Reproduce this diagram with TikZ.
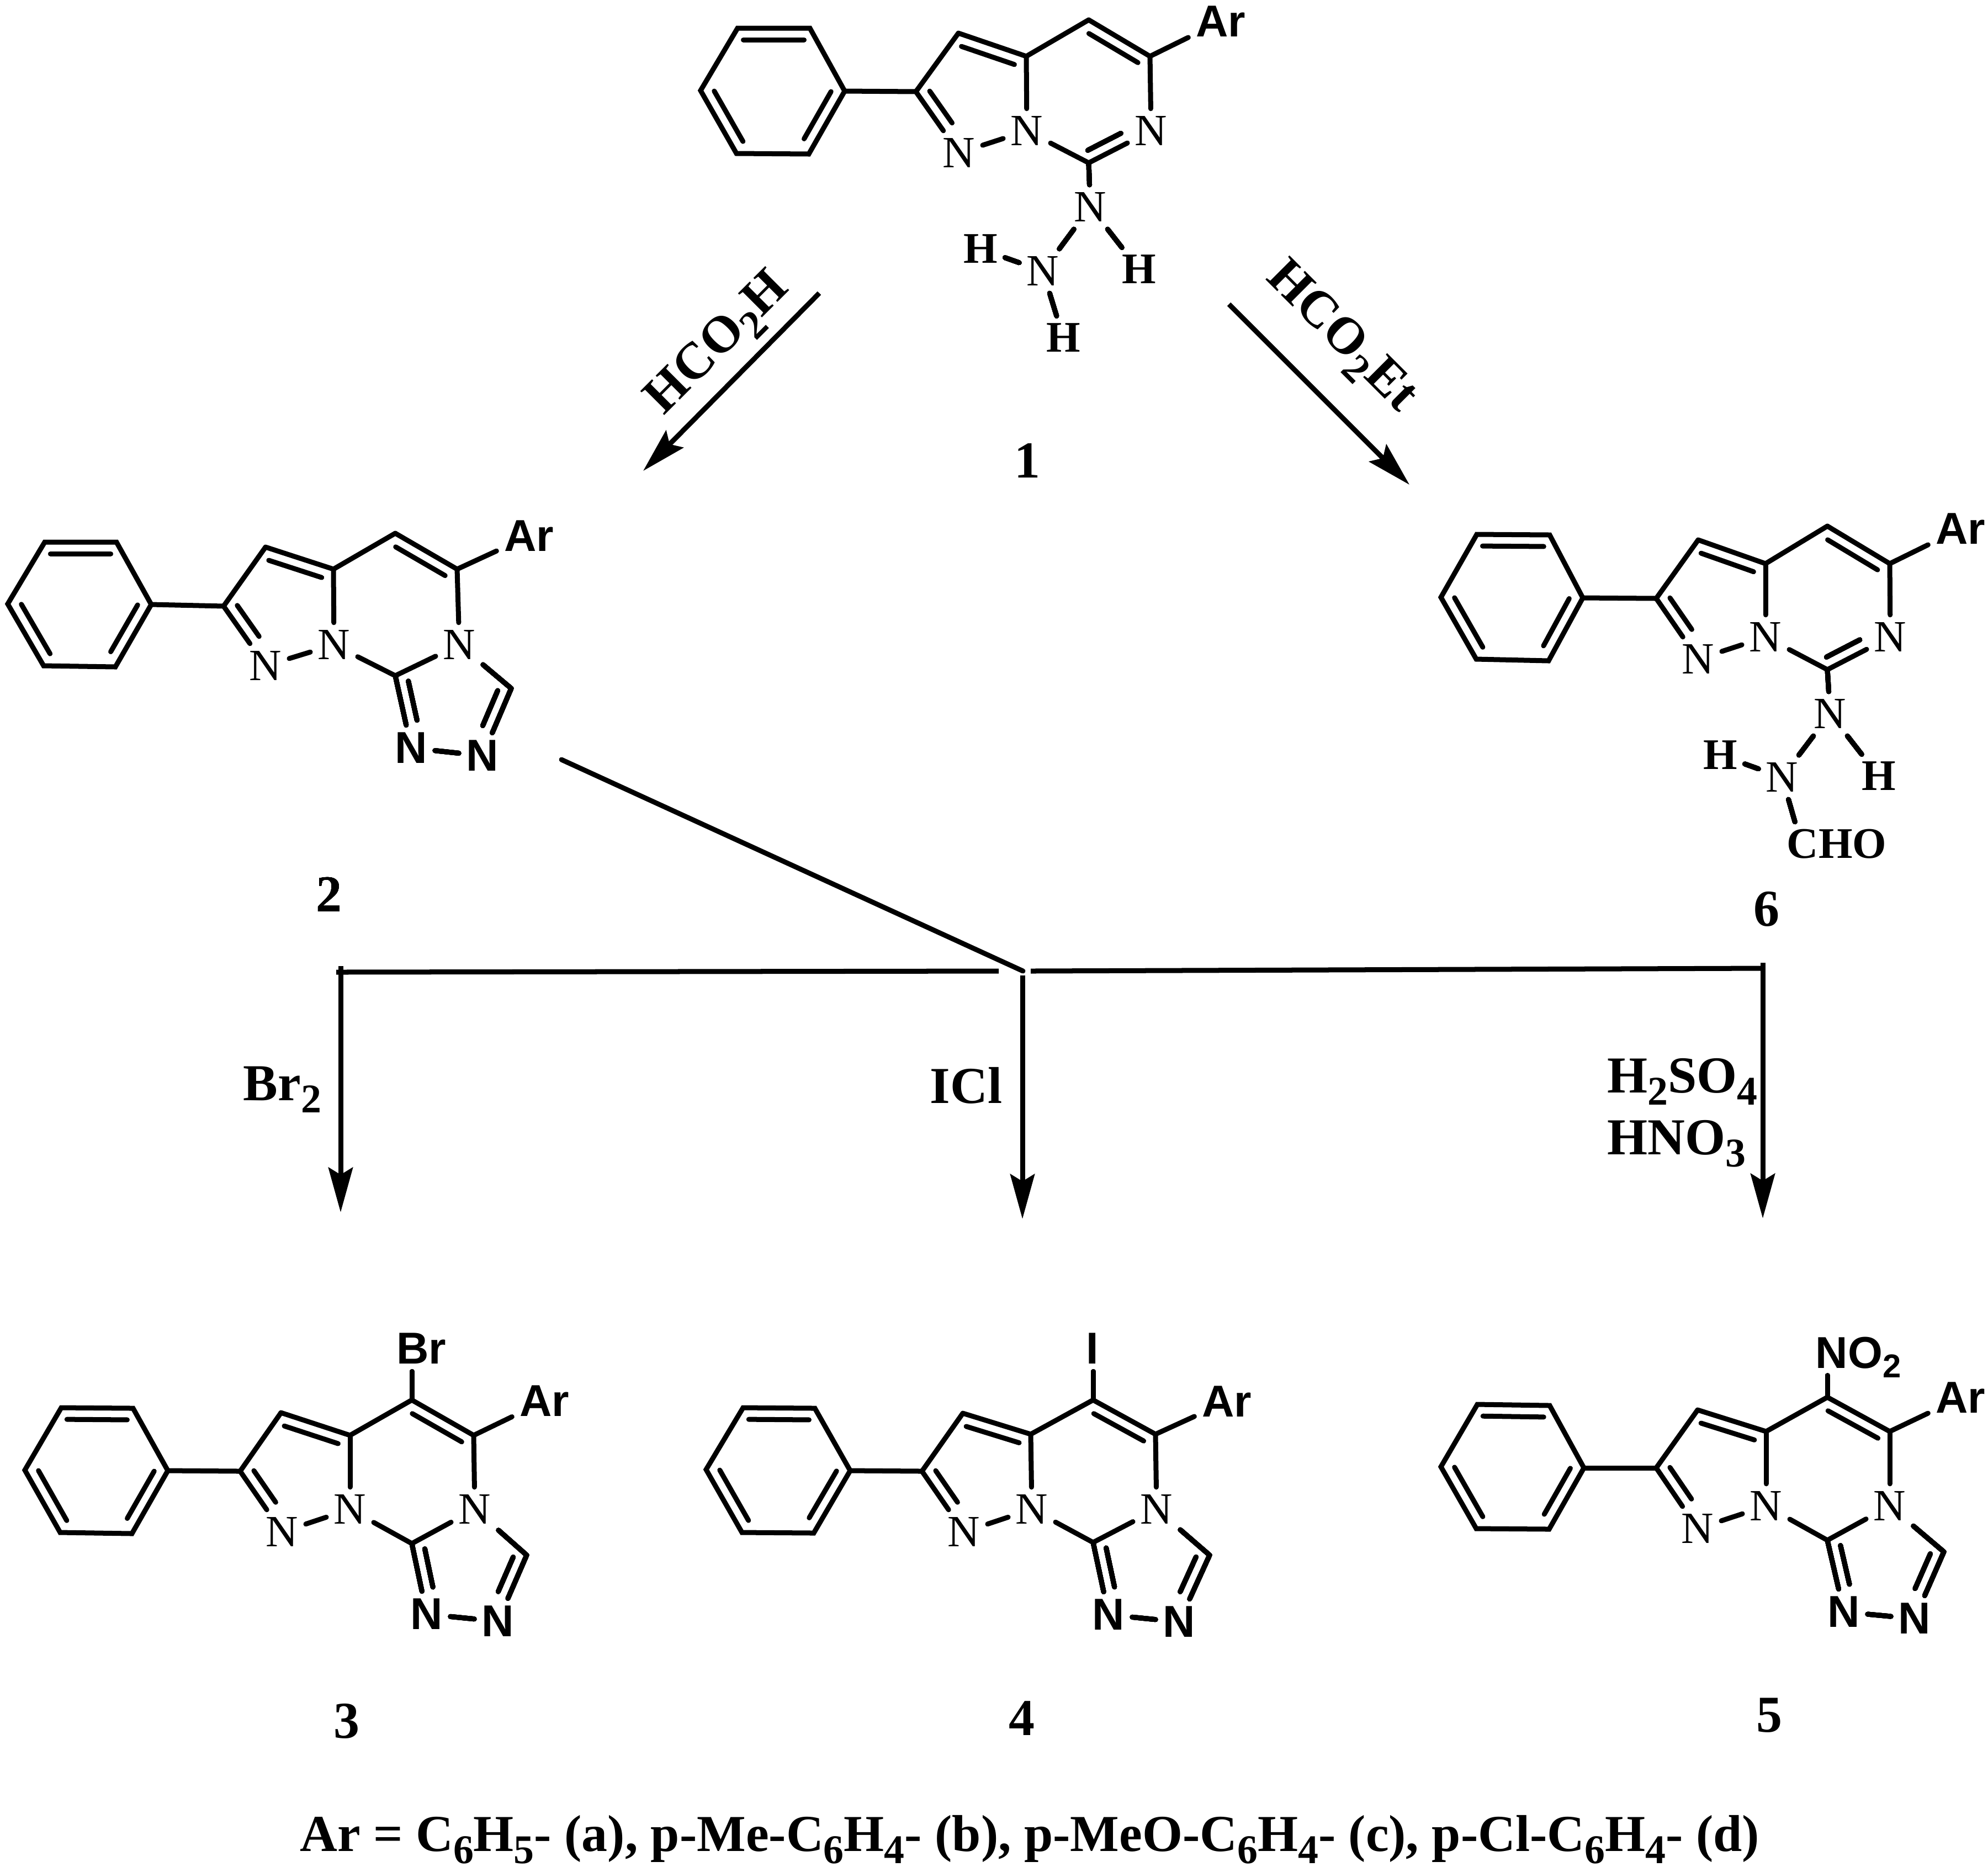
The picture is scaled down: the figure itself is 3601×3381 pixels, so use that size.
\documentclass[tikz,border=0pt]{standalone}
\usepackage{fontspec}
\setmainfont{Liberation Serif}
\newfontfamily\sansf{Liberation Sans}
\usetikzlibrary{arrows.meta, calc}
\newcommand{\sbs}[1]{\raisebox{-.24em}{\fontsize{21}{21}\selectfont #1}}
\newcommand{\nsbs}[1]{\raisebox{-.22em}{\fontsize{17}{17}\selectfont #1}}
\tikzset{
    bond/.style={line width=0.09cm, line cap=round, line join=miter},
    rline/.style={line width=0.09cm},
    rarrow/.style={rline, -{Stealth[length=0.81cm, width=0.44cm, inset=0.13cm]}},
    atom/.style={font=\fontsize{23}{23}\selectfont, inner sep=0.13cm},
    hatom/.style={atom, font=\fontsize{22.5}{23}\selectfont\bfseries},
    aratom/.style={atom, font=\fontsize{23}{23}\selectfont\sansf\bfseries},
    reagent/.style={font=\fontsize{26.7}{27}\selectfont\bfseries, inner sep=0pt},
}
\newcommand{\dbl}[4]{\draw[bond] ($(#1)!#3!(#2)!0.21cm!-90:(#2)$) -- ($(#1)!#4!(#2)!0.21cm!-90:(#2)$);}
\newcommand{\corebonds}[1]{
    \draw[bond] (#1p1) -- (#1p2) -- (#1p3) -- (#1p4) -- (#1p5) -- (#1p6) -- cycle;
    \foreach \a/\b in {p3/c2,c2/c3,c3/c3a,c3a/ch,ch/car,car/n4,c3a/nb,nb/nl,c2/nl,nb/cb,cb/n4,car/ar}
        \draw[bond] (#1\a) -- (#1\b);
    \foreach \a/\b/\s/\e in {p1/p2/.08/.92,p3/p4/.1/.85,p5/p6/.1/.9,c3/c3a/.1/.88,nl/c2/.38/.9,ch/car/.1/.9}
        \dbl{#1\a}{#1\b}{\s}{\e}
}
\newcommand{\triazole}[1]{
    \foreach \a/\b in {cb/n3,n4/ct,ct/nr,n3/nr}
        \draw[bond] (#1\a) -- (#1\b);
    \dbl{#1n3}{#1cb}{.35}{.89}
    \dbl{#1ct}{#1nr}{.1}{.62}
}
\begin{document}
\begin{tikzpicture}[x=0.01cm, y=-0.01cm]
    \useasboundingbox (0,0) rectangle (3601,3381);
    \foreach \n/\x/\y in {p1/1336/51,p2/1467/51,p3/1530/165,p4/1465/279,p5/1334/278,p6/1269/164,c2/1659/166,c3/1736/60,c3a/1859/102,ch/1972/36,car/2083/102,cb/1972/295}
        \coordinate (m1\n) at (\x,\y);
    \foreach \n/\x/\y in {nl/1737/277,nb/1860/237,n4/2085/237,n5/1975/375,n6/1889/491}
        \node[atom] (m1\n) at (\x,\y) {N};
    \foreach \n/\x/\y in {h1/2063/488,h2/1776/451,h3/1926/612}
        \node[hatom] (m1\n) at (\x,\y) {H};
    \node[aratom] (m1ar) at (2211,39) {Ar};
    \corebonds{m1}
    \dbl{m1n4}{m1cb}{.40}{.93}
    \foreach \a/\b in {cb/n5,n5/n6,n5/h1,n6/h2,n6/h3}
        \draw[bond] (m1\a) -- (m1\b);
    \node[reagent] (lab1) at (1861,834) {1};

    \foreach \n/\x/\y in {p1/2675/968,p2/2807/969,p3/2867/1083,p4/2805/1197,p5/2674/1194,p6/2610/1082,c2/3000/1084,c3/3076/978,c3a/3198/1021,ch/3310/953,car/3423/1021,cb/3310/1213}
        \coordinate (m6\n) at (\x,\y);
    \foreach \n/\x/\y in {nl/3076/1194,nb/3198/1154,n4/3424/1154,n5/3315/1293,n6/3228/1408}
        \node[atom] (m6\n) at (\x,\y) {N};
    \foreach \n/\x/\y in {h1/3403/1406,h2/3116/1368}
        \node[hatom] (m6\n) at (\x,\y) {H};
    \node[hatom] (m6cho) at (3327,1529) {CHO};
    \node[aratom] (m6ar) at (3551,958) {Ar};
    \corebonds{m6}
    \dbl{m6n4}{m6cb}{.40}{.93}
    \foreach \a/\b in {cb/n5,n5/n6,n5/h1,n6/h2,n6/cho.152}
        \draw[bond] (m6\a) -- (m6\b);
    \node[reagent] (lab6) at (3200,1647) {6};

    \foreach \n/\x/\y in {p1/81/982,p2/211/982,p3/274/1095,p4/209/1208,p5/79/1206,p6/14/1094,c2/405/1098,c3/481/991,c3a/604/1031,ch/716/966,car/828/1031,cb/716/1224,ct/926/1247}
        \coordinate (m2\n) at (\x,\y);
    \foreach \n/\x/\y in {nl/481/1206,nb/605/1168,n4/832/1168}
        \node[atom] (m2\n) at (\x,\y) {N};
    \foreach \n/\x/\y in {n3/745/1355,nr/874/1369}
        \node[aratom] (m2\n) at (\x,\y) {N};
    \node[aratom] (m2ar) at (958,971) {Ar};
    \corebonds{m2}
    \triazole{m2}
    \node[reagent] (lab2) at (596,1620) {2};

    \foreach \n/\x/\y in {p1/111/2550,p2/241/2551,p3/304/2664,p4/239/2778,p5/109/2776,p6/45/2663,c2/435/2665,c3/509/2559,c3a/634/2600,ch/746/2536,car/858/2600,cb/746/2796,ct/954/2817}
        \coordinate (m3\n) at (\x,\y);
    \foreach \n/\x/\y in {nl/511/2775,nb/634/2734,n4/860/2734}
        \node[atom] (m3\n) at (\x,\y) {N};
    \foreach \n/\x/\y in {n3/773/2924,nr/902/2937}
        \node[aratom] (m3\n) at (\x,\y) {N};
    \node[aratom] (m3ar) at (986,2538) {Ar};
    \node[aratom] (m3x) at (763,2443) {Br};
    \corebonds{m3}
    \triazole{m3}
    \draw[bond] (m3ch) -- (m3ch |- m3x.south);
    \node[reagent] (lab3) at (628,3118) {3};

    \foreach \n/\x/\y in {p1/1346/2550,p2/1476/2551,p3/1540/2664,p4/1474/2777,p5/1344/2776,p6/1279/2662,c2/1670/2665,c3/1744/2560,c3a/1867/2598,ch/1980/2536,car/2093/2598,cb/1980/2794,ct/2191/2817}
        \coordinate (m4\n) at (\x,\y);
    \foreach \n/\x/\y in {nl/1746/2775,nb/1869/2734,n4/2095/2734}
        \node[atom] (m4\n) at (\x,\y) {N};
    \foreach \n/\x/\y in {n3/2008/2925,nr/2136/2938}
        \node[aratom] (m4\n) at (\x,\y) {N};
    \node[aratom] (m4ar) at (2222,2539) {Ar};
    \node[aratom] (m4x) at (1979,2443) {I};
    \corebonds{m4}
    \triazole{m4}
    \draw[bond] (m4ch) -- (m4ch |- m4x.south);
    \node[reagent] (lab4) at (1851,3113) {4};

    \foreach \n/\x/\y in {p1/2676/2544,p2/2807/2546,p3/2869/2659,p4/2806/2770,p5/2674/2769,p6/2610/2657,c2/3000/2659,c3/3075/2554,c3a/3199/2593,ch/3310/2531,car/3423/2593,cb/3310/2790,ct/3521/2811}
        \coordinate (m5\n) at (\x,\y);
    \foreach \n/\x/\y in {nl/3075/2769,nb/3199/2728,n4/3423/2728}
        \node[atom] (m5\n) at (\x,\y) {N};
    \foreach \n/\x/\y in {n3/3340/2920,nr/3468/2932}
        \node[aratom] (m5\n) at (\x,\y) {N};
    \node[aratom] (m5ar) at (3551,2532) {Ar};
    \node[aratom, anchor=base west, text depth=0pt] (m5x) at (3275,2478) {NO\nsbs{2}};
    \corebonds{m5}
    \triazole{m5}
    \draw[bond] (m5ch) -- (m5ch |- m5x.south);
    \node[reagent] (lab5) at (3205,3107) {5};

    \foreach \n/\x/\y in {a1s/1484/531,a1e/1165/853,a6s/2226/551,a6e/2553/878,ds/1017/1376,jc/1853/1759,hl/609/1761,hm/1809/1759,hn/1867/1759,hr/3193/1754,b3s/617/1750,b3e/617/2196,b4s/1852/1767,b4e/1852/2208,b5s/3193/1744,b5e/3193/2207}
        \coordinate (\n) at (\x,\y);
    \draw[rarrow] (a1s) -- (a1e);
    \draw[rarrow] (a6s) -- (a6e);
    \draw[bond] (ds) -- (jc);
    \foreach \a/\b in {hl/hm,hn/hr}
        \draw[rline] (\a) -- (\b);
    \foreach \a/\b in {b3s/b3e,b4s/b4e,b5s/b5e}
        \draw[rarrow] (\a) -- (\b);
    \node[reagent, rotate=45] (hcooh) at (1303,625) {HCO\sbs{2}H};
    \node[reagent, rotate=-45] (hcooet) at (2427,613) {HCO\sbs{2}Et};
    \node[reagent, anchor=base west] (br2) at (440,1993) {Br\sbs{2}};
    \node[reagent, anchor=base west] (icl) at (1684,1998) {ICl};
    \node[reagent, anchor=base west] (h2so4) at (2911,1979) {H\sbs{2}SO\sbs{4}};
    \node[reagent, anchor=base west] (hno3) at (2911,2091) {HNO\sbs{3}};
    \node[reagent, anchor=base] (arlist) at (1865,3353) {Ar = C\sbs{6}H\sbs{5}- (a), p-Me-C\sbs{6}H\sbs{4}- (b), p-MeO-C\sbs{6}H\sbs{4}- (c), p-Cl-C\sbs{6}H\sbs{4}- (d)};
\end{tikzpicture}
\end{document}
